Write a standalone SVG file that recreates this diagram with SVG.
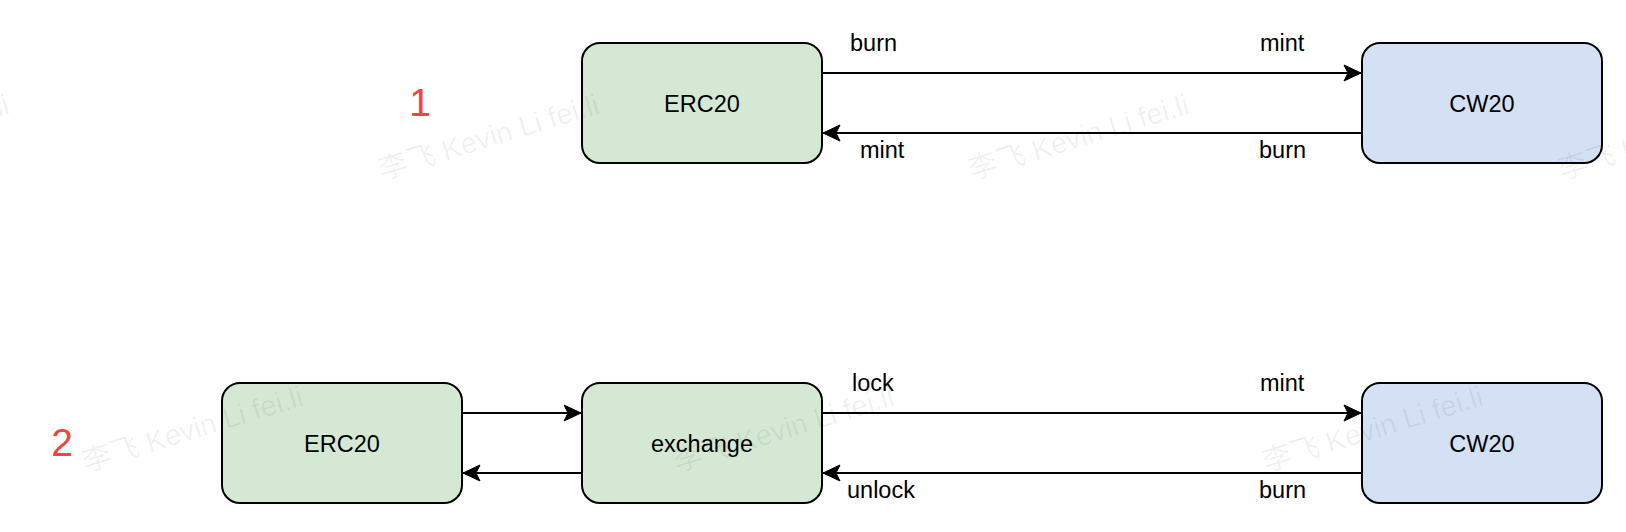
<svg xmlns="http://www.w3.org/2000/svg" width="1626" height="532" viewBox="0 0 1626 532">
<style>
.box{stroke:#000;stroke-width:2}
.g{fill:#d5e8d4}
.b{fill:#d4e1f4}
.t{font-family:"Liberation Sans",Arial,sans-serif;font-size:23.5px;fill:#000}
.c{text-anchor:middle}
.num{font-family:"Liberation Sans",Arial,sans-serif;font-size:39px;fill:#EC463E;text-anchor:middle}
.wm{font-family:"Liberation Sans","Noto Sans CJK SC",sans-serif;font-size:29px;fill:#000;fill-opacity:0.06}
.ln{stroke:#000;stroke-width:2;fill:none}
</style>
<defs>
<marker id="arr" markerUnits="userSpaceOnUse" markerWidth="20" markerHeight="20" viewBox="-18 -10 20 20" refX="0" refY="0" orient="auto">
<path d="M0,0 L-17,-8 L-13,0 L-17,8 Z" fill="#000" stroke="#000" stroke-width="1"/>
</marker>
</defs>
<g id="connectors">
<line class="ln" x1="822" y1="73" x2="1361" y2="73" marker-end="url(#arr)"/>
<line class="ln" x1="1362" y1="133" x2="823" y2="133" marker-end="url(#arr)"/>
<line class="ln" x1="462" y1="413" x2="581" y2="413" marker-end="url(#arr)"/>
<line class="ln" x1="582" y1="473" x2="463" y2="473" marker-end="url(#arr)"/>
<line class="ln" x1="822" y1="413" x2="1361" y2="413" marker-end="url(#arr)"/>
<line class="ln" x1="1362" y1="473" x2="823" y2="473" marker-end="url(#arr)"/>
<text class="t" x="850" y="51">burn</text>
<text class="t" x="1260" y="51">mint</text>
<text class="t" x="860" y="158">mint</text>
<text class="t" x="1259" y="158">burn</text>
<text class="t" x="852" y="391">lock</text>
<text class="t" x="1260" y="391">mint</text>
<text class="t" x="847" y="498">unlock</text>
<text class="t" x="1259" y="498">burn</text>
</g>
<g id="label-1"><text class="num" x="420" y="116">1</text></g>
<g id="label-2"><text class="num" x="62" y="456">2</text></g>
<g id="erc20-top">
<rect class="box g" x="582" y="43" width="240" height="120" rx="18" ry="18"/>
<text class="t c" x="702" y="111.5">ERC20</text>
</g>
<g id="cw20-top">
<rect class="box b" x="1362" y="43" width="240" height="120" rx="18" ry="18"/>
<text class="t c" x="1482" y="111.5">CW20</text>
</g>
<g id="erc20-bottom">
<rect class="box g" x="222" y="383" width="240" height="120" rx="18" ry="18"/>
<text class="t c" x="342" y="451.5">ERC20</text>
</g>
<g id="exchange">
<rect class="box g" x="582" y="383" width="240" height="120" rx="18" ry="18"/>
<text class="t c" x="702" y="451.5">exchange</text>
</g>
<g id="cw20-bottom">
<rect class="box b" x="1362" y="383" width="240" height="120" rx="18" ry="18"/>
<text class="t c" x="1482" y="451.5">CW20</text>
</g>
<g id="watermarks">
<text class="wm" transform="translate(-208,180) rotate(-17)">李飞 Kevin Li fei.li</text>
<text class="wm" transform="translate(382,180) rotate(-17)">李飞 Kevin Li fei.li</text>
<text class="wm" transform="translate(972,180) rotate(-17)">李飞 Kevin Li fei.li</text>
<text class="wm" transform="translate(1562,180) rotate(-17)">李飞 Kevin Li fei.li</text>
<text class="wm" transform="translate(86,472) rotate(-17)">李飞 Kevin Li fei.li</text>
<text class="wm" transform="translate(677,472) rotate(-17)">李飞 Kevin Li fei.li</text>
<text class="wm" transform="translate(1266,472) rotate(-17)">李飞 Kevin Li fei.li</text>
</g>
</svg>
